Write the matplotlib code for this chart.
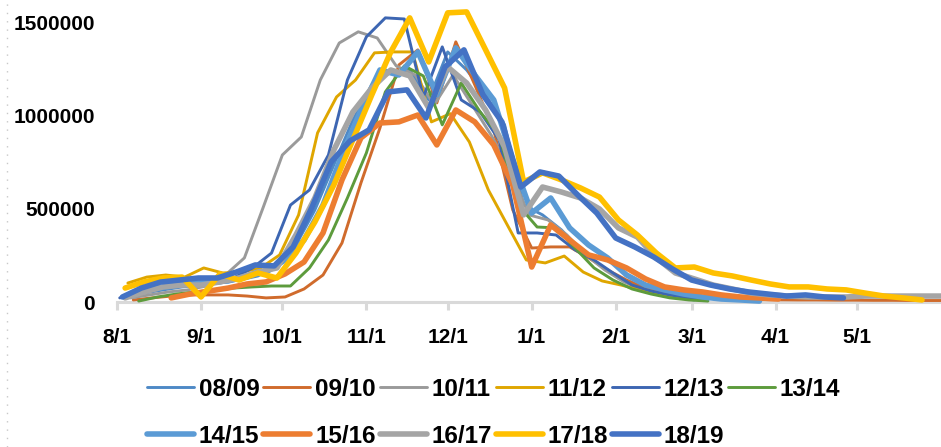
import matplotlib
matplotlib.use('Agg')
import matplotlib.pyplot as plt
from matplotlib.font_manager import FontProperties
from matplotlib.lines import Line2D
import numpy as np

# ---------------- data ----------------
seasons = ['08/09', '09/10', '10/11', '11/12', '12/13', '13/14',
           '14/15', '15/16', '16/17', '17/18', '18/19']
# day (after 1 Aug) of the first weekly point of each season
start_day = [3, 6, 5, 4, 1, 8, 6, 20, 3, 3, 2]

# weekly values, in thousands
v0809 = [27, 48, 65, 81, 91, 102, 118, 140, 199, 306, 495, 737, 978, 1167, 1236, 1247,
         1086, 1344, 1247, 1113, 952, 521, 468, 387, 280, 199, 129, 81, 48, 27, 11]
v0910 = [11, 22, 32, 38, 38, 38, 32, 22, 27, 70, 145, 317, 640, 935, 1274, 1355,
         1070, 1398, 1167, 925, 495, 290, 296, 296, 237, 172, 118, 75, 48, 32, 22, 16,
         14, 13, 12, 11, 11, 10, 10, 9, 9, 8, 8, 8]
v1011 = [22, 38, 54, 65, 86, 145, 237, 511, 790, 887, 1193, 1392, 1452, 1419, 1269, 1220,
         1059, 1220, 1059, 898, 710, 468, 441, 360, 253, 172, 108, 65, 38, 22, 11]
v1112 = [102, 134, 145, 134, 183, 156, 161, 183, 253, 468, 909, 1102, 1193, 1339, 1344, 1344,
         968, 1012, 860, 602, 414, 226, 210, 247, 161, 113, 91, 65, 43, 27, 16]
v1213 = [22, 59, 81, 97, 108, 118, 129, 183, 263, 521, 602, 790, 1193, 1425, 1527, 1521,
         1100, 1371, 1086, 1021, 871, 371, 371, 360, 280, 226, 156, 91, 59, 38, 22, 11]
v1314 = [5, 27, 43, 54, 65, 75, 81, 86, 86, 183, 333, 559, 801, 1129, 1269, 1215,
         952, 1177, 1021, 898, 521, 403, 398, 290, 183, 118, 70, 43, 22, 11, 5]
v1415 = [43, 70, 86, 97, 108, 113, 140, 161, 226, 333, 521, 790, 1032, 1247, 1220, 1344,
         1113, 1366, 1220, 1086, 763, 478, 559, 398, 306, 237, 145, 91, 65, 43, 27, 16, 11, 5]
v1516 = [22, 43, 59, 75, 97, 108, 151, 215, 371, 656, 882, 962, 968, 1005, 844, 1032,
         968, 844, 629, 188, 414, 333, 253, 226, 183, 124, 81, 65, 54, 38, 27, 22, 16]
v1617 = [22, 54, 81, 91, 91, 108, 129, 161, 183, 360, 559, 817, 1021, 1150, 1247, 1215,
         1043, 1263, 1177, 1032, 833, 468, 618, 591, 559, 500, 398, 349, 237, 156, 124, 91,
         70, 48, 38, 32, 27, 27, 27, 32, 32, 32, 32, 32]
v1718 = [75, 108, 129, 134, 27, 151, 118, 156, 129, 263, 430, 629, 871, 1113, 1344, 1527,
         1290, 1554, 1559, 1355, 1150, 645, 694, 656, 613, 564, 441, 360, 263, 183, 188, 156,
         140, 118, 97, 81, 81, 70, 65, 48, 32, 22, 11]
v1819 = [27, 75, 107, 118, 129, 129, 161, 199, 194, 296, 511, 753, 866, 925, 1129, 1140,
         989, 1263, 1355, 1113, 968, 618, 699, 677, 575, 478, 344, 296, 242, 177, 118, 91,
         70, 54, 43, 32, 38, 27, 22]
series = [v0809, v0910, v1011, v1112, v1213, v1314, v1415, v1516, v1617, v1718, v1819]

month_days = [0, 31, 61, 92, 122, 153, 184, 212, 243, 273]
month_labels = ['8/1', '9/1', '10/1', '11/1', '12/1', '1/1', '2/1', '3/1', '4/1', '5/1']
y_ticks = [0, 500000, 1000000, 1500000]

# ---------------- style ----------------
colors = ['#4E89C6', '#D06B2C', '#9A9A9A', '#DFA600', '#3D66B2', '#5D9B3C',
          '#5B9BD5', '#ED7D31', '#A5A5A5', '#FFC000', '#4472C4']
FONT = 'Liberation Sans'
tick_fp = FontProperties(family=FONT, weight='bold', size=15)
leg_fp = FontProperties(family=FONT, weight='bold', size=17.5)

W, H = 941, 447
fig = plt.figure(figsize=(W / 100, H / 100), dpi=100)
ax = fig.add_axes([117 / W, 1 - 302 / H, 1 - 117 / W, 302 / H])

for i, (name, vals, sd, col) in enumerate(zip(seasons, series, start_day, colors)):
    x = sd + 7 * np.arange(len(vals))
    y = np.array(vals, dtype=float) * 1000
    ax.plot(x, y, color=col, lw=2.1 if i < 6 else 4.0,
            solid_capstyle='round', solid_joinstyle='round',
            zorder=3 + i * 0.01, label=name, clip_on=False)

ax.set_xlim(0, 304)
ax.set_ylim(0, 1623000)
ax.set_xticks(month_days)
ax.set_xticklabels(month_labels)
ax.set_yticks(y_ticks)
ax.set_yticklabels([str(v) for v in y_ticks])

for s in ['top', 'right', 'left']:
    ax.spines[s].set_visible(False)
ax.spines['bottom'].set_color('#D9D9D9')
ax.spines['bottom'].set_linewidth(2.2)
ax.spines['bottom'].set_zorder(2)

ax.tick_params(axis='x', direction='out', length=6, width=2.2, color='#D9D9D9',
               pad=13, labelcolor='black')
ax.tick_params(axis='y', length=0, pad=16, labelcolor='black')
for lab in ax.get_xticklabels() + ax.get_yticklabels():
    lab.set_fontproperties(tick_fp)

h, l = ax.get_legend_handles_labels()
order = [0, 6, 1, 7, 2, 8, 3, 9, 4, 10, 5]
fig.legend([h[i] for i in order], [l[i] for i in order], ncol=6,
           loc='upper left', bbox_to_anchor=(147 / W, 1 - 378 / H),
           frameon=False, prop=leg_fp, handlelength=1.93, handletextpad=0.2,
           columnspacing=0.16, labelspacing=0.98, borderpad=0, borderaxespad=0)

fig.add_artist(Line2D([7 / W, 7 / W], [0, 1], transform=fig.transFigure,
                      color='#C8C8C8', lw=1, linestyle=(0, (1, 5))))

fig.savefig('out.png', dpi=100)
